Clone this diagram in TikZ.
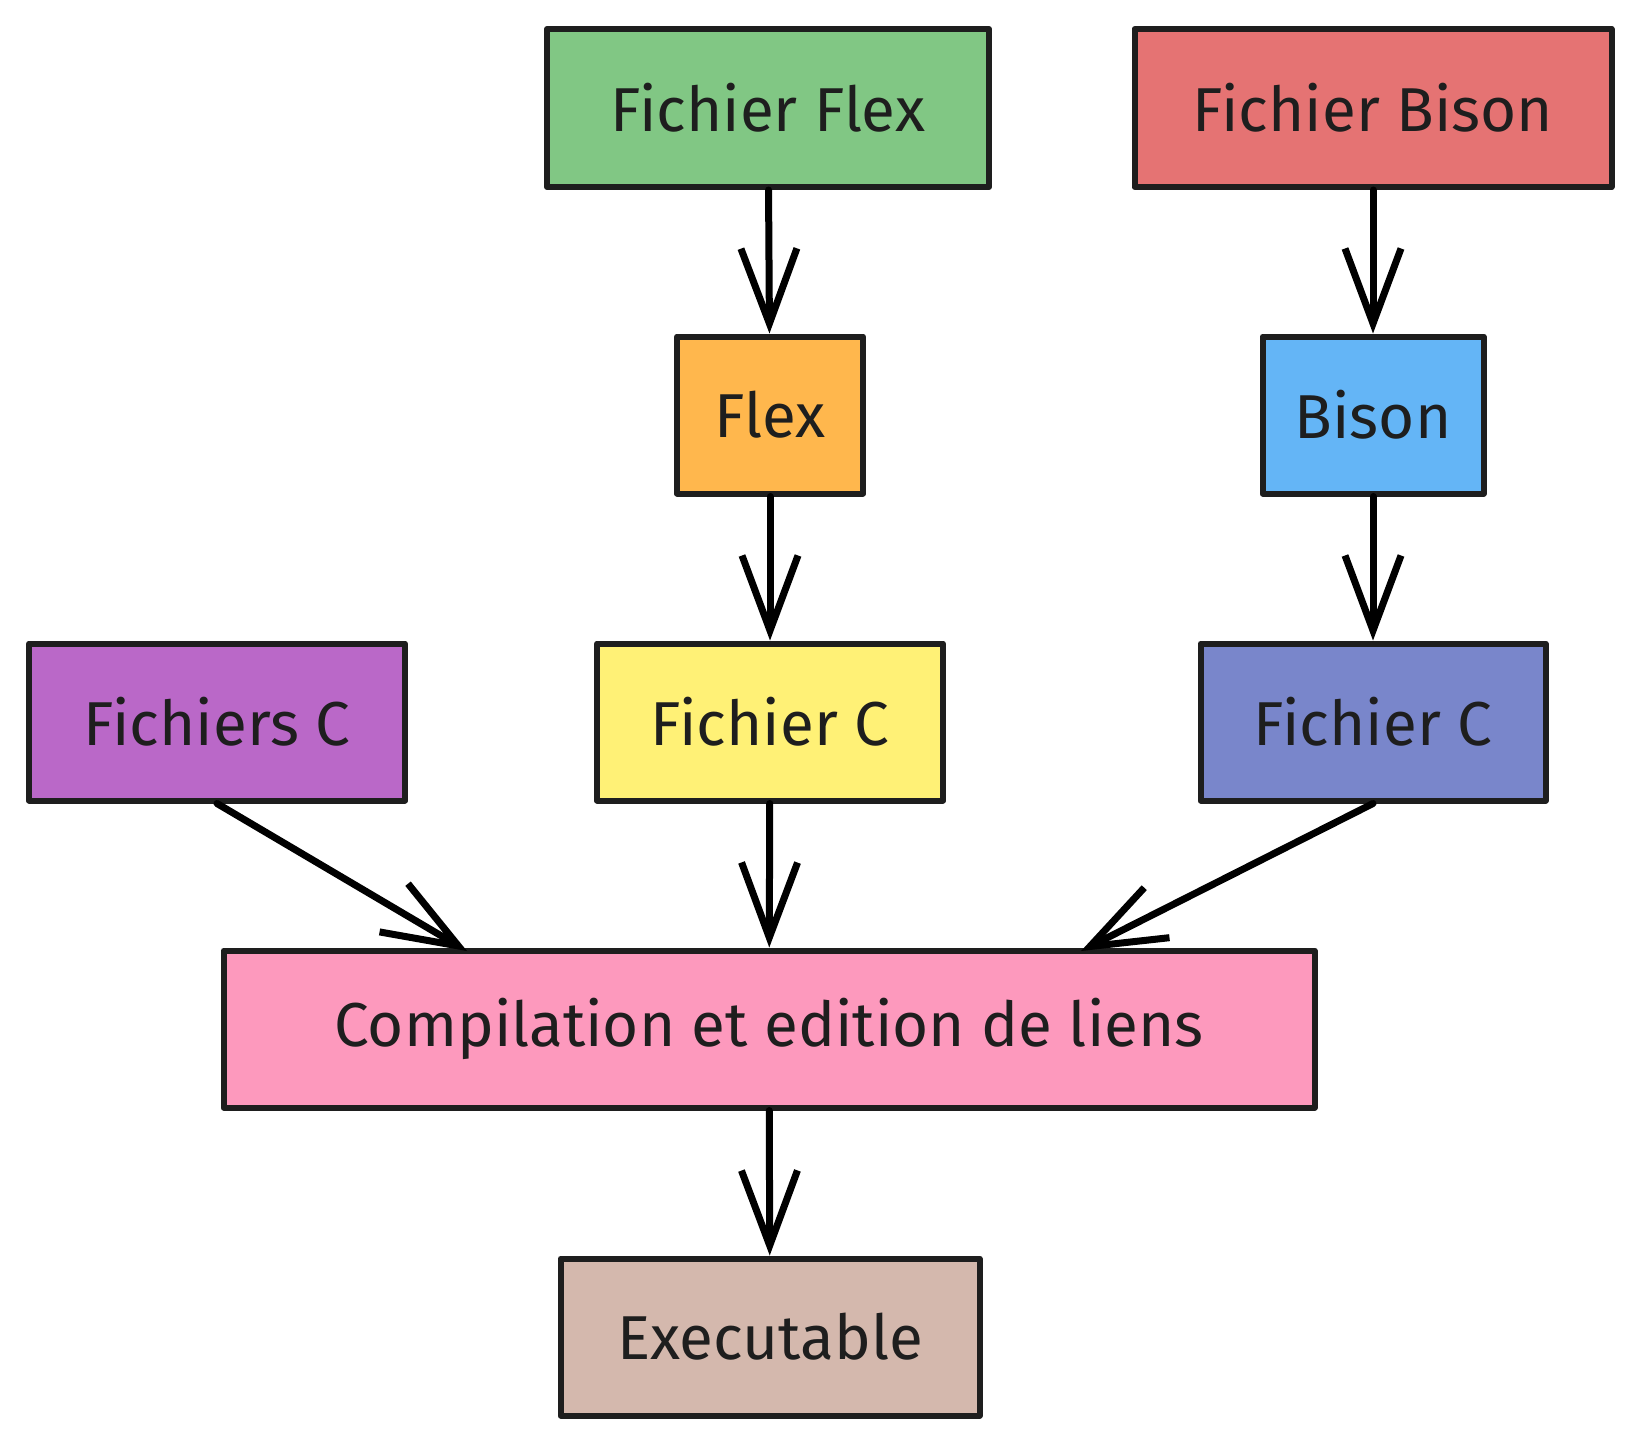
\documentclass[tikz,border=0pt]{standalone}
\usepackage{fontspec}
\setmainfont{Fira Sans}
\usetikzlibrary{arrows.meta}
\definecolor{ink}{HTML}{1E1E1E}
\definecolor{cgreen}{HTML}{81C784}
\definecolor{cred}{HTML}{E57373}
\definecolor{corange}{HTML}{FFB74D}
\definecolor{cblue}{HTML}{64B5F6}
\definecolor{cpurple}{HTML}{BA68C8}
\definecolor{cyellow}{HTML}{FFF176}
\definecolor{cindigo}{HTML}{7986CB}
\definecolor{cpink}{HTML}{FD99BD}
\definecolor{cbrown}{HTML}{D4B8AD}
\begin{document}
\begin{tikzpicture}[x=1pt,y=-1pt,
  box/.style={draw=ink, line width=6pt, rectangle, inner sep=0pt, align=center,
    font=\fontsize{62}{70}\selectfont, text=ink, line join=round},
  conn/.style={draw=black, line width=7pt, line cap=round,
    -{Straight Barb[length=75pt,width=56pt,line width=7pt]}}]
\useasboundingbox (0,0) rectangle (1638,1440);
\node[box, fill=cgreen, minimum width=442pt, minimum height=158pt] (ff) at (768,108) {Fichier Flex};
\node[box, fill=cred, minimum width=477pt, minimum height=158pt] (fb) at (1373,108) {Fichier Bison};
\node[box, fill=corange, minimum width=186pt, minimum height=157pt] (flex) at (770,415) {Flex};
\node[box, fill=cblue, minimum width=221pt, minimum height=157pt] (bison) at (1373,415) {Bison};
\node[box, fill=cpurple, minimum width=376pt, minimum height=157pt] (fcs) at (217,722) {Fichiers C};
\node[box, fill=cyellow, minimum width=346pt, minimum height=157pt] (fc1) at (770,722) {Fichier C};
\node[box, fill=cindigo, minimum width=345pt, minimum height=157pt] (fc2) at (1373,722) {Fichier C};
\node[box, fill=cpink, minimum width=1091pt, minimum height=157pt] (comp) at (769,1029) {Compilation et edition de liens};
\node[box, fill=cbrown, minimum width=419pt, minimum height=157pt] (exe) at (770,1337) {Executable};
\coordinate (cl) at (467,951);
\coordinate (cr) at (1081,951);
\draw[conn] (ff) -- (flex);
\draw[conn] (fb) -- (bison);
\draw[conn] (flex) -- (fc1);
\draw[conn] (bison) -- (fc2);
\draw[conn] (fcs.south) -- (cl);
\draw[conn] (fc1) -- (comp);
\draw[conn] (fc2.south) -- (cr);
\draw[conn] (comp) -- (exe);
\end{tikzpicture}
\end{document}
